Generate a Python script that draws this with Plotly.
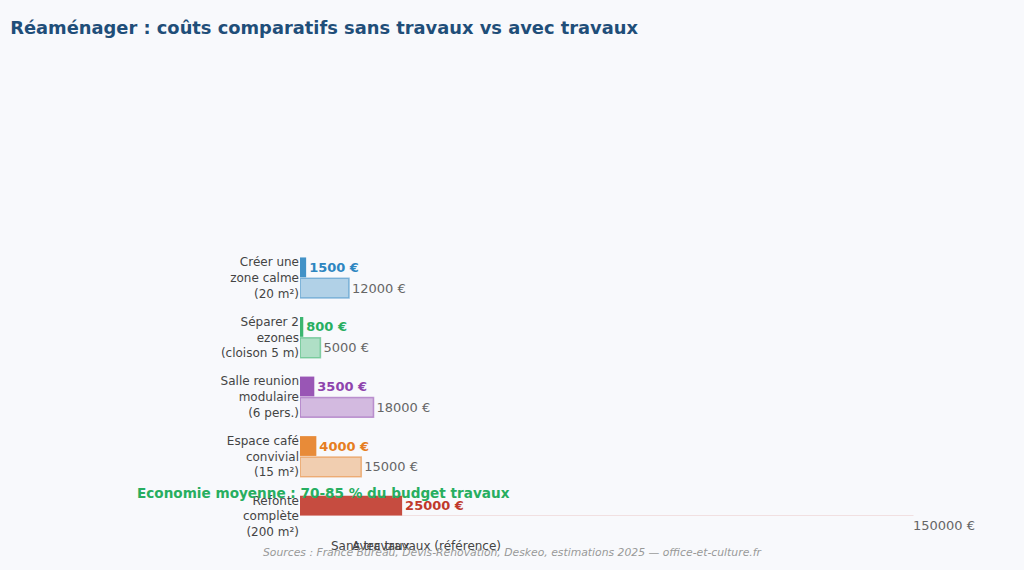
import plotly.graph_objects as go

# Données
categories = [
    "Créer une<br>zone calme<br>(20 m²)",
    "Séparer 2<br>ezones<br>(cloison 5 m)",
    "Salle reunion<br>modulaire<br>(6 pers.)",
    "Espace café<br>convivial<br>(15 m²)",
    "Refonte<br>complète<br>(200 m²)",
]
sans_travaux = [1500, 800, 3500, 4000, 25000]
avec_travaux = [12000, 5000, 18000, 15000, 150000]
couleurs = ["#2e86c1", "#27ae60", "#8e44ad", "#e67e22", "#c0392b"]
legende = ["Sans travaux", "Avec travaux (référence)"]


def rgba(hex_color, alpha):
    h = hex_color.lstrip("#")
    r, g, b = int(h[0:2], 16), int(h[2:4], 16), int(h[4:6], 16)
    return f"rgba({r},{g},{b},{alpha})"


fig = go.Figure()

# barres "sans travaux" (pleines)
fig.add_trace(go.Bar(
    y=categories,
    x=sans_travaux,
    orientation="h",
    name=legende[0],
    marker=dict(color=couleurs, opacity=0.9, line=dict(width=0)),
    text=[f"<b>{v} €</b>" for v in sans_travaux],
    textposition="outside",
    textfont=dict(color=couleurs, size=13),
    cliponaxis=False,
    showlegend=False,
))

# barres "avec travaux" (claires, référence)
fig.add_trace(go.Bar(
    y=categories,
    x=avec_travaux,
    orientation="h",
    name=legende[1],
    marker=dict(color=[rgba(c, 0.35) for c in couleurs],
                line=dict(color=[rgba(c, 0.5) for c in couleurs], width=1.5)),
    text=[f"{v} €" for v in avec_travaux],
    textposition="outside",
    textfont=dict(color="#666666", size=13),
    cliponaxis=False,
    showlegend=False,
))

# la dernière barre "avec travaux" sort de la zone visible : son libellé reste affiché
fig.add_annotation(
    text=f"{avec_travaux[-1]} €",
    x=avec_travaux[-1], y=categories[-1], xref="x", yref="y",
    xanchor="left", yanchor="middle", xshift=-2, yshift=-9,
    showarrow=False, font=dict(color="#666666", size=13),
)

# entrées de légende (sans symbole visible), une légende par entrée
for nom, leg in zip(legende, ["legend", "legend2"]):
    fig.add_trace(go.Scatter(
        x=[0], y=[categories[0]], mode="markers", name=nom,
        marker=dict(opacity=0, color="rgba(0,0,0,0)"),
        hoverinfo="skip", legend=leg,
    ))

fig.add_annotation(
    text="<b>Economie moyenne : 70-85 % du budget travaux</b>",
    xref="paper", yref="paper", x=0.0356, y=0.086,
    xanchor="center", yanchor="middle",
    showarrow=False, font=dict(color="#27ae60", size=13.6),
)
fig.add_annotation(
    text="<i>Sources : France Bureau, Devis-Renovation, Deskeo, estimations 2025 — office-et-culture.fr</i>",
    xref="paper", yref="paper", x=0.316, y=-0.138,
    xanchor="center", yanchor="middle",
    showarrow=False, font=dict(color="#999999", size=10.8),
)

leg_style = dict(orientation="h", xref="paper", yref="container",
                 y=0.044, yanchor="middle", xanchor="left",
                 font=dict(size=12, color="#444444"), bgcolor="rgba(0,0,0,0)")

fig.update_layout(
    width=1024,
    height=570,
    title=dict(
        text="<b>Réaménager : coûts comparatifs sans travaux vs avec travaux</b>",
        x=0.01, xanchor="left", y=0.951, yanchor="middle",
        font=dict(size=17.85, color="#1f4e79"),
    ),
    font=dict(family="DejaVu Sans", size=12, color="#444444"),
    barmode="group",
    bargap=0.3,
    bargroupgap=0.05,
    paper_bgcolor="#f8f9fc",
    plot_bgcolor="#f8f9fc",
    margin=dict(l=300, r=50, t=248, b=54, autoexpand=False),
    xaxis=dict(range=[0, 165000], showticklabels=False, showgrid=False,
               zeroline=False, showline=False, automargin=False),
    yaxis=dict(range=[4, -0.5], showgrid=False, zeroline=False, automargin=False,
               tickfont=dict(size=12, color="#444444")),
    legend=dict(x=-0.0134, **leg_style),
    legend2=dict(x=0.0178, **leg_style),
)

fig.write_html("out.html", config={"displayModeBar": False},
               post_script="document.body.style.margin='0';")
